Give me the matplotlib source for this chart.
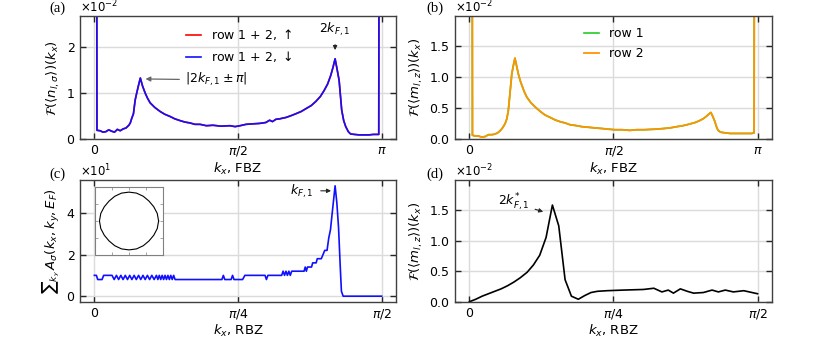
import numpy as np
import matplotlib
matplotlib.use("Agg")
import matplotlib.pyplot as plt
from matplotlib.ticker import ScalarFormatter

# (a) Fourier transform of densities, FBZ; k in units of pi, values in units of 1e-2
a_k = [0, 0.009, 0.02, 0.03, 0.04, 0.05, 0.06, 0.07, 0.08, 0.09, 0.10, 0.11, 0.12,
       0.125, 0.13, 0.136, 0.142, 0.148, 0.154, 0.16, 0.168, 0.177, 0.185, 0.194,
       0.21, 0.229, 0.245, 0.264, 0.28, 0.299, 0.315, 0.333, 0.35, 0.368, 0.39,
       0.413, 0.44, 0.472, 0.49, 0.507, 0.528, 0.55, 0.575, 0.597, 0.61, 0.62,
       0.632, 0.645, 0.667, 0.685, 0.701, 0.72, 0.736, 0.755, 0.771, 0.787, 0.80,
       0.812, 0.823, 0.831, 0.838, 0.845, 0.852, 0.861, 0.868, 0.875, 0.884, 0.892,
       0.905, 0.921, 0.94, 0.956, 0.972, 0.985, 0.990, 1.0]
a_val = [50, 0.19, 0.18, 0.15, 0.16, 0.20, 0.17, 0.15, 0.21, 0.18, 0.22, 0.24, 0.30,
         0.35, 0.45, 0.55, 0.85, 1.02, 1.18, 1.33, 1.15, 1.00, 0.89, 0.79,
         0.69, 0.60, 0.54, 0.49, 0.44, 0.40, 0.37, 0.35, 0.32, 0.32, 0.29,
         0.30, 0.28, 0.29, 0.27, 0.29, 0.32, 0.33, 0.34, 0.36, 0.41, 0.38,
         0.43, 0.44, 0.47, 0.51, 0.55, 0.60, 0.66, 0.73, 0.82, 0.93, 1.06,
         1.20, 1.39, 1.57, 1.75, 1.52, 1.28, 0.63, 0.40, 0.27, 0.16, 0.11,
         0.10, 0.09, 0.09, 0.09, 0.10, 0.10, 0.10, 50]

# (b) Fourier transform of magnetization, FBZ
b_k = [0, 0.0105, 0.02, 0.03, 0.043, 0.055, 0.066, 0.078, 0.089, 0.098, 0.106, 0.115,
       0.124, 0.13, 0.135, 0.141, 0.147, 0.152, 0.158, 0.164, 0.17, 0.176, 0.182,
       0.19, 0.199, 0.213, 0.228, 0.245, 0.262, 0.28, 0.297, 0.315, 0.332, 0.35,
       0.367, 0.39, 0.413, 0.435, 0.459, 0.48, 0.505, 0.53, 0.557, 0.58, 0.605,
       0.627, 0.65, 0.675, 0.696, 0.72, 0.74, 0.754, 0.77, 0.785, 0.80, 0.812,
       0.823, 0.83, 0.838, 0.845, 0.852, 0.858, 0.863, 0.872, 0.887, 0.905, 0.927,
       0.945, 0.965, 0.98, 0.988, 1.0]
b_val = [50, 0.06, 0.05, 0.05, 0.03, 0.04, 0.07, 0.07, 0.08, 0.10, 0.13, 0.18,
         0.25, 0.33, 0.46, 0.75, 1.05, 1.18, 1.31, 1.18, 1.05, 0.95, 0.87,
         0.77, 0.68, 0.59, 0.52, 0.45, 0.39, 0.35, 0.31, 0.28, 0.26, 0.23,
         0.22, 0.20, 0.19, 0.18, 0.17, 0.16, 0.15, 0.15, 0.14, 0.15, 0.15,
         0.155, 0.16, 0.17, 0.18, 0.20, 0.215, 0.23, 0.25, 0.27, 0.30, 0.33,
         0.37, 0.40, 0.43, 0.36, 0.28, 0.19, 0.14, 0.11, 0.10, 0.09, 0.09,
         0.09, 0.09, 0.09, 0.10, 50]

# (c) spectral weight summed over k_y, RBZ
c_k = [0, 0.0035, 0.0058, 0.0133, 0.0162, 0.0307,
       0.0345, 0.0384, 0.0422, 0.0461, 0.0499, 0.0538, 0.0576, 0.0615, 0.0653,
       0.0692, 0.0730, 0.0769, 0.0807, 0.0846, 0.0884, 0.0923, 0.0961, 0.1000,
       0.104, 0.108, 0.1105, 0.113, 0.1155, 0.118, 0.1205, 0.123, 0.1255, 0.128,
       0.1305, 0.133, 0.1355, 0.138, 0.1405,
       0.222, 0.2245, 0.227, 0.238, 0.2405, 0.243, 0.258, 0.262, 0.297, 0.2995,
       0.302, 0.326, 0.3285, 0.331, 0.3335, 0.336, 0.3385, 0.341, 0.3435, 0.346,
       0.365, 0.367, 0.369, 0.371, 0.378, 0.380, 0.386, 0.388, 0.395, 0.398,
       0.401, 0.405, 0.408, 0.411, 0.414, 0.419, 0.422, 0.425, 0.428, 0.430,
       0.433, 0.5]
c_val = [10, 10, 8, 8, 10, 10,
         8, 10, 8, 10, 8, 10, 8, 10, 8,
         10, 8, 10, 8, 10, 8, 10, 8, 10,
         8, 10, 8, 10, 8, 10, 8, 10, 8, 10,
         8, 10, 8, 10, 8,
         8, 10, 8, 8, 10, 8, 8, 10, 10, 8,
         10, 10, 12, 10, 12, 10, 12, 10, 12, 12,
         12, 14, 12, 14, 14, 16, 16, 18, 18, 20,
         22, 22, 28, 32, 40, 53, 45, 33, 14, 2.4,
         0, 0]

# inset: Fermi surface contour, angle (deg) and radius (axes units)
fs_angle = [0, 15, 30, 45, 60, 75, 90, 105, 120, 135, 150, 165, 180,
            195, 210, 225, 240, 255, 270, 285, 300, 315, 330, 345, 360]
fs_radius = [0.87, 0.86, 0.84, 0.83, 0.84, 0.85, 0.85, 0.85, 0.84, 0.83, 0.84, 0.86, 0.87,
             0.86, 0.84, 0.83, 0.84, 0.85, 0.85, 0.85, 0.84, 0.83, 0.84, 0.86, 0.87]

# (d) Fourier transform of magnetization, RBZ
d_k = [0, 0.011, 0.022, 0.033, 0.044, 0.055, 0.066, 0.077, 0.088, 0.10, 0.111,
       0.122, 0.133, 0.144, 0.155, 0.166, 0.177, 0.189, 0.2, 0.211, 0.222, 0.239,
       0.267, 0.302, 0.32, 0.334, 0.345, 0.354, 0.366, 0.378, 0.389, 0.406,
       0.421, 0.432, 0.444, 0.458, 0.476, 0.5]
d_val = [0, 0.04, 0.09, 0.13, 0.17, 0.21, 0.26, 0.32, 0.39, 0.48, 0.60,
         0.76, 1.05, 1.58, 1.24, 0.36, 0.09, 0.04, 0.10, 0.15, 0.17, 0.18,
         0.19, 0.20, 0.22, 0.16, 0.19, 0.14, 0.21, 0.17, 0.14, 0.15,
         0.19, 0.16, 0.19, 0.16, 0.18, 0.13]

fbz_ticks = [0, 0.5, 1.0]
fbz_labels = ['0', r'$\pi/2$', r'$\pi$']
rbz_ticks = [0, 0.25, 0.5]
rbz_labels = ['0', r'$\pi/4$', r'$\pi/2$']

plt.rcParams['font.size'] = 9
plt.rcParams['mathtext.fontset'] = 'dejavusans'

fig = plt.figure(figsize=(8.3, 3.45), dpi=100)
ax_a = fig.add_axes([0.0964, 0.5971, 0.3807, 0.3560])
ax_b = fig.add_axes([0.5482, 0.5971, 0.3819, 0.3560])
ax_c = fig.add_axes([0.0964, 0.1255, 0.3807, 0.3528])
ax_d = fig.add_axes([0.5482, 0.1255, 0.3819, 0.3528])


def style_axis(ax, ticks, labels, xlabel, ylabel):
    ax.set_xticks(np.array(ticks) * np.pi)
    ax.set_xticklabels(labels)
    ax.set_xlim(-0.05 * ticks[-1] * np.pi, ticks[-1] * np.pi * 1.05)
    ax.grid(True, color='0.86', lw=1.0)
    ax.set_axisbelow(True)
    ax.tick_params(direction='in', top=True, right=True, length=4,
                   width=1.0, labelsize=9, color='0.15')
    for s in ax.spines.values():
        s.set_color('0.25')
        s.set_linewidth(1.0)
    fmt = ScalarFormatter(useMathText=True)
    fmt.set_powerlimits((0, 0))
    ax.yaxis.set_major_formatter(fmt)
    ax.yaxis.get_offset_text().set_fontsize(8.5)
    ax.set_xlabel(xlabel, fontsize=9.5, labelpad=2)
    ax.set_ylabel(ylabel, fontsize=9.5, labelpad=3)


# (a)
ka = np.array(a_k) * np.pi
va = np.array(a_val) * 1e-2
ax_a.plot(ka, va, color='red', lw=1.2, label=r'row 1 + 2, $\uparrow$')
ax_a.plot(ka, va, color='#1010ff', lw=1.2, label=r'row 1 + 2, $\downarrow$')
style_axis(ax_a, fbz_ticks, fbz_labels, r'$k_x$, FBZ',
           r'$\mathcal{F}(\langle n_{l,\sigma}\rangle)(k_x)$')
ax_a.set_ylim(0, 0.0268)
ax_a.set_yticks([0, 0.01, 0.02])
ax_a.legend(loc='upper left', bbox_to_anchor=(0.30, 1.0), frameon=False,
            handlelength=1.2, handletextpad=0.8, labelspacing=0.55, fontsize=9)
ax_a.annotate(r'$|2k_{F,1} \pm \pi|$', xy=(0.178 * np.pi, 0.0131),
              xytext=(0.315 * np.pi, 0.0129), va='center', fontsize=9,
              arrowprops=dict(arrowstyle='-|>', color='0.4', lw=0.9,
                              mutation_scale=7, shrinkA=2, shrinkB=0))
ax_a.annotate(r'$2k_{F,1}$', xy=(0.838 * np.pi, 0.0194),
              xytext=(0.838 * np.pi, 0.0240), ha='center', va='center', fontsize=9,
              arrowprops=dict(arrowstyle='-|>', color='0.15', lw=0.8,
                              mutation_scale=6, shrinkA=3, shrinkB=0))

# (b)
kb = np.array(b_k) * np.pi
vb = np.array(b_val) * 1e-2
ax_b.plot(kb, vb, color='#22cc22', lw=1.2, label='row 1')
ax_b.plot(kb, vb, color='#ff9400', lw=1.3, label='row 2')
style_axis(ax_b, fbz_ticks, fbz_labels, r'$k_x$, FBZ',
           r'$\mathcal{F}(\langle m_{l,z}\rangle)(k_x)$')
ax_b.set_ylim(0, 0.0199)
ax_b.set_yticks([0, 0.005, 0.01, 0.015])
ax_b.legend(loc='upper left', bbox_to_anchor=(0.37, 1.0), frameon=False,
            handlelength=1.2, handletextpad=0.8, labelspacing=0.55, fontsize=9)

# (c)
kc = np.array(c_k) * np.pi
ax_c.plot(kc, c_val, color='#1010ff', lw=1.2)
style_axis(ax_c, rbz_ticks, rbz_labels, r'$k_x$, RBZ',
           '\u2211' + r'$_{k_y}\, A_\sigma(k_x, k_y, E_F)$')
ax_c.set_ylim(-2.65, 55.8)
ax_c.set_yticks([0, 20, 40])
ax_c.annotate(r'$k_{F,1}$', xy=(0.412 * np.pi, 50.6),
              xytext=(0.382 * np.pi, 50.6), ha='right', va='center', fontsize=9,
              arrowprops=dict(arrowstyle='-|>', color='0.15', lw=0.8,
                              mutation_scale=6, shrinkA=3, shrinkB=0))

# inset Fermi surface
ax_in = fig.add_axes([0.1145, 0.2609, 0.0819, 0.197])
th = np.deg2rad(fs_angle)
ax_in.plot(np.array(fs_radius) * np.cos(th), np.array(fs_radius) * np.sin(th),
           color='black', lw=0.8)
ax_in.set_xlim(-1, 1)
ax_in.set_ylim(-1, 1)
ax_in.set_xticks([-0.5, 0, 0.5])
ax_in.set_yticks([-0.5, 0, 0.5])
ax_in.tick_params(direction='in', top=True, right=True, length=2, width=0.5,
                  color='0.5', labelbottom=False, labelleft=False)
for s in ax_in.spines.values():
    s.set_color('0.5')
    s.set_linewidth(0.8)

# (d)
kd = np.array(d_k) * np.pi
vd = np.array(d_val) * 1e-2
ax_d.plot(kd, vd, color='black', lw=1.2)
style_axis(ax_d, rbz_ticks, rbz_labels, r'$k_x$, RBZ',
           r'$\mathcal{F}(\langle m_{l,z}\rangle)(k_x)$')
ax_d.set_ylim(0, 0.0199)
ax_d.set_yticks([0, 0.005, 0.01, 0.015])
ax_d.annotate(r'$2k^{*}_{F,1}$', xy=(0.128 * np.pi, 0.0147),
              xytext=(0.05 * np.pi, 0.0162), va='center', fontsize=9,
              arrowprops=dict(arrowstyle='-|>', color='0.15', lw=0.8,
                              mutation_scale=6, shrinkA=2, shrinkB=0))

# panel labels
for x, y, lab in [(0.060, 0.975, '(a)'), (0.514, 0.975, '(b)'),
                  (0.060, 0.495, '(c)'), (0.514, 0.495, '(d)')]:
    fig.text(x, y, lab, family='Liberation Serif', fontsize=10.5, va='center')

fig.savefig('out.png', dpi=100)
